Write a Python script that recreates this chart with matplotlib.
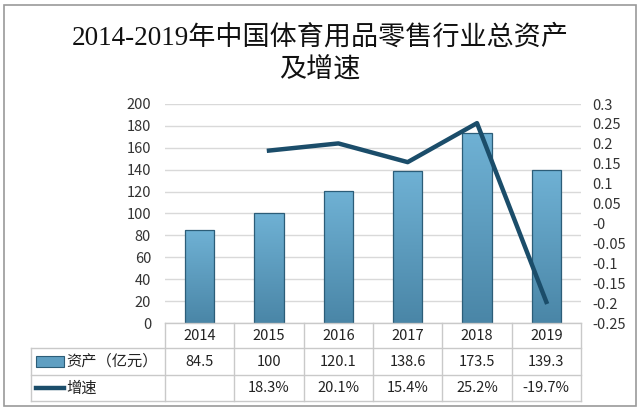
import matplotlib.pyplot as plt
import matplotlib.transforms as mtransforms
from matplotlib.colors import LinearSegmentedColormap
from matplotlib.lines import Line2D
from matplotlib.patches import Rectangle
import numpy as np

plt.rcParams['font.family'] = ['Noto Sans CJK SC', 'DejaVu Sans']
plt.rcParams['axes.unicode_minus'] = False

# data
years = ['2014', '2015', '2016', '2017', '2018', '2019']
assets = [84.5, 100, 120.1, 138.6, 173.5, 139.3]
growth = [np.nan, 0.183, 0.201, 0.154, 0.252, -0.197]
asset_text = ['84.5', '100', '120.1', '138.6', '173.5', '139.3']
growth_text = ['', '18.3%', '20.1%', '15.4%', '25.2%', '-19.7%']
row_names = ['资产（亿元）', '增速']
title_lines = ['2014-2019年中国体育用品零售行业总资产', '及增速']

W, H = 640, 411
def fx(p):
    return p / W
def fy(p):
    return 1 - p / H

bar_dark = '#4a86a7'
bar_light = '#6fb1d4'
bar_edge = '#2c5d78'
line_col = '#1b4d6a'
grid_col = '#d9d9d9'
tab_col = '#c9c9c9'

fig = plt.figure(figsize=(6.4, 4.11), dpi=100)
ax = fig.add_axes([fx(165), fy(323), fx(581) - fx(165), fy(104) - fy(323)])

x = np.arange(len(years))
bars = ax.bar(x, assets, width=0.42, facecolor='none', edgecolor=bar_edge,
              linewidth=0.9, zorder=3)
cmap = LinearSegmentedColormap.from_list('barg', [bar_dark, bar_light])
grad = np.linspace(0, 1, 100).reshape(-1, 1)
for b in bars:
    im = ax.imshow(grad, extent=[b.get_x(), b.get_x() + b.get_width(), 0, b.get_height()],
                   origin='lower', aspect='auto', cmap=cmap, zorder=2)
    im.set_clip_path(b)

ax.set_xlim(-0.5, len(years) - 0.5)
ax.set_ylim(0, 200)
ax.set_yticks(np.arange(0, 201, 20))
ax.set_xticks([])
ax.yaxis.grid(True, color=grid_col, linewidth=1)
ax.set_axisbelow(True)
for s in ax.spines.values():
    s.set_visible(False)
ax.tick_params(axis='y', length=0, pad=10, labelsize=10.5, labelcolor='#333333')

ax2 = ax.twinx()
ax2.plot(x, growth, color=line_col, linewidth=3.2, zorder=5)
ax2.set_ylim(-0.25, 0.3)
rt = np.round(np.arange(-0.25, 0.301, 0.05), 2)
ax2.set_yticks(rt)
ax2.set_yticklabels([f'{v:g}' for v in rt])
for s in ax2.spines.values():
    s.set_visible(False)
ax2.tick_params(axis='y', length=0, pad=8, labelsize=10.5, labelcolor='#333333')

# data table under the axes
tr = mtransforms.blended_transform_factory(ax.transData, fig.transFigure)
y_top, y_r1, y_r2, y_bot = 323, 348, 375, 401
left_px = 31

def hline(ypx, x0px, x1px):
    fig.add_artist(Line2D([fx(x0px), fx(x1px)], [fy(ypx), fy(ypx)],
                          color=tab_col, linewidth=1, transform=fig.transFigure))

hline(y_top, 165, 581)
hline(y_r1, left_px, 581)
hline(y_r2, left_px, 581)
hline(y_bot, left_px, 581)
for i in range(len(years) + 1):
    fig.add_artist(Line2D([i - 0.5, i - 0.5], [fy(y_top), fy(y_bot)],
                          color=tab_col, linewidth=1, transform=tr))
fig.add_artist(Line2D([fx(left_px), fx(left_px)], [fy(y_r1), fy(y_bot)],
                      color=tab_col, linewidth=1, transform=fig.transFigure))

for i, yr in enumerate(years):
    fig.text(i, fy((y_top + y_r1) / 2), yr, transform=tr, ha='center', va='center',
             fontsize=10.5, color='#222222')
    fig.text(i, fy((y_r1 + y_r2) / 2), asset_text[i], transform=tr, ha='center',
             va='center', fontsize=10.5, color='#222222')
    fig.text(i, fy((y_r2 + y_bot) / 2), growth_text[i], transform=tr, ha='center',
             va='center', fontsize=10.5, color='#222222')

# legend keys inside the row labels
fig.add_artist(Rectangle((fx(36), fy(367)), fx(64) - fx(36), fy(356) - fy(367),
                         facecolor='#5f9fc2', edgecolor=bar_edge, linewidth=0.8,
                         transform=fig.transFigure))
fig.add_artist(Line2D([fx(36), fx(64)], [fy(388), fy(388)], color=line_col,
                      linewidth=3.2, transform=fig.transFigure))
fig.text(fx(66), fy((y_r1 + y_r2) / 2), row_names[0], ha='left', va='center',
         fontsize=11, color='#222222')
fig.text(fx(66), fy((y_r2 + y_bot) / 2), row_names[1], ha='left', va='center',
         fontsize=11, color='#222222')

# title
serif = ['Liberation Serif', 'Noto Sans CJK SC']
fig.text(0.5, fy(38), title_lines[0], ha='center', va='center', fontsize=19.5,
         family=serif, color='#111111')
fig.text(0.5, fy(71), title_lines[1], ha='center', va='center', fontsize=19.5,
         family=serif, color='#111111')

# outer frame
fig.add_artist(Rectangle((fx(4), fy(406)), fx(636) - fx(4), fy(5) - fy(406),
                         fill=False, edgecolor='#9a9a9a', linewidth=1.2,
                         transform=fig.transFigure))

fig.savefig('out.png', dpi=100)
